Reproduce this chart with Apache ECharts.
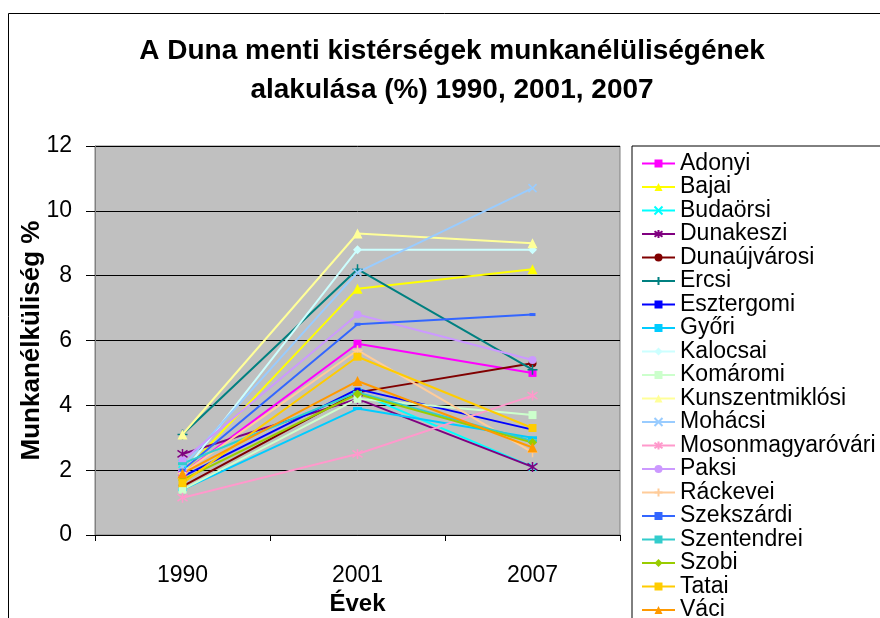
<!DOCTYPE html>
<html lang="hu">
<head>
    <meta charset="utf-8">
    <title>Duna menti kistérségek</title>
    <script src="https://cdn.jsdelivr.net/npm/echarts@6/dist/echarts.min.js"></script>
</head>
<body style="margin:0">
<div id="main" style="width:880px;height:618px;"></div>

<script type="text/javascript">
    var years = ['1990', '2001', '2007'];
    var districts = ['Adonyi', 'Bajai', 'Budaörsi', 'Dunakeszi', 'Dunaújvárosi', 'Ercsi', 'Esztergomi', 'Győri',
        'Kalocsai', 'Komáromi', 'Kunszentmiklósi', 'Mohácsi', 'Mosonmagyaróvári', 'Paksi', 'Ráckevei',
        'Szekszárdi', 'Szentendrei', 'Szobi', 'Tatai', 'Váci'];
    var v1990 = [1.9, 1.9, 2.2, 2.5, 1.5, 3.1, 1.8, 1.4, 1.9, 1.4, 3.1, 2.1, 1.15, 2.3, 1.9, 2.0, 2.2, 1.7, 1.6, 1.9];
    var v2001 = [5.9, 7.6, 4.4, 4.2, 4.4, 8.2, 4.5, 3.9, 8.8, 4.2, 9.3, 8.1, 2.5, 6.8, 5.7, 6.5, 4.4, 4.35, 5.5, 4.75];
    var v2007 = [5.0, 8.2, 2.1, 2.1, 5.3, 5.1, 3.25, 3.0, 8.8, 3.7, 9.0, 10.7, 4.3, 5.4, 2.55, 6.8, 2.9, 2.85, 3.3, 2.7];
    var yMin = 0, yMax = 12, yStep = 2;

    var colors = ['#FF00FF', '#FFFF00', '#00FFFF', '#800080', '#800000', '#008080', '#0000FF', '#00CCFF',
        '#CCFFFF', '#CCFFCC', '#FFFF99', '#99CCFF', '#FF99CC', '#CC99FF', '#FFCC99',
        '#3366FF', '#33CCCC', '#99CC00', '#FFCC00', '#FF9900'];

    var SQ = 'rect', TRI = 'triangle', CIR = 'circle', DIA = 'diamond';
    var XM = 'path://M0,0L10,10M10,0L0,10';
    var STAR = 'path://M5,0L5,10M0.7,1.5L9.3,8.5M9.3,1.5L0.7,8.5';
    var PLUS = 'path://M5,0L5,10M0,5L10,5';
    var markers = [SQ, TRI, XM, STAR, CIR, PLUS, 'rect', 'rect', DIA, SQ, TRI, XM, STAR, CIR, PLUS, 'rect', 'rect', DIA, SQ, TRI];
    var sizes = [8, 10, 8, 10, 8, 10, [6, 3], [9, 3], 9, 8, 10, 8, 10, 8, 10, [6, 3], [9, 3], 9, 8, 10];

    var font = 'Liberation Sans, Arial, sans-serif';
    var myChart = echarts.init(document.getElementById('main'));

    var series = districts.map(function (name, i) {
        var isPath = typeof markers[i] === 'string' && markers[i].indexOf('path://') === 0;
        return {
            name: name,
            type: 'line',
            data: [v1990[i], v2001[i], v2007[i]],
            symbol: markers[i],
            symbolSize: sizes[i],
            showAllSymbol: true,
            color: colors[i],
            lineStyle: {width: 2, color: colors[i]},
            itemStyle: {color: colors[i], borderColor: colors[i], borderWidth: isPath ? 1.5 : 0},
            emphasis: {disabled: true}
        };
    });

    var option = {
        animation: false,
        backgroundColor: '#fff',
        title: {
            text: 'A Duna menti kistérségek munkanélüliségének\nalakulása (%) 1990, 2001, 2007',
            left: 452,
            top: 32,
            padding: 0,
            textAlign: 'center',
            textStyle: {fontFamily: font, fontSize: 28, fontWeight: 'bold', color: '#000', lineHeight: 39}
        },
        graphic: [{
            type: 'rect',
            shape: {x: 8.5, y: 13.5, width: 1000, height: 1000},
            style: {fill: 'none', stroke: '#000', lineWidth: 1},
            silent: true
        }],
        legend: {
            orient: 'vertical',
            left: 632,
            top: 146,
            height: 700,
            padding: [6, 10, 6, 9],
            borderColor: '#000',
            borderWidth: 1,
            itemWidth: 33,
            itemHeight: 10,
            itemGap: 0.5,
            textStyle: {fontFamily: font, fontSize: 23, lineHeight: 23, color: '#000'},
            data: districts
        },
        grid: {
            left: 95, right: 260, top: 146, bottom: 83,
            outerBoundsMode: 'none',
            containLabel: false,
            show: true,
            backgroundColor: '#C0C0C0',
            borderColor: '#808080',
            borderWidth: 1
        },
        xAxis: {
            type: 'category',
            data: years,
            boundaryGap: true,
            name: 'Évek',
            nameLocation: 'middle',
            nameGap: 57,
            nameMoveOverlap: false,
            nameTextStyle: {fontFamily: font, fontSize: 24, fontWeight: 'bold', color: '#000'},
            axisLine: {lineStyle: {color: '#000', width: 1}},
            axisTick: {show: true, length: 6, lineStyle: {color: '#000'}},
            axisLabel: {fontFamily: font, fontSize: 23, color: '#000', margin: 29}
        },
        yAxis: {
            type: 'value',
            min: yMin,
            max: yMax,
            interval: yStep,
            name: 'Munkanélküliség %',
            nameLocation: 'middle',
            nameGap: 50,
            nameMoveOverlap: false,
            nameTextStyle: {fontFamily: font, fontSize: 26, fontWeight: 'bold', color: '#000'},
            axisLine: {show: true, lineStyle: {color: '#808080', width: 1}},
            axisTick: {show: true, length: 9, lineStyle: {color: '#000'}},
            axisLabel: {fontFamily: font, fontSize: 23, color: '#000', margin: 23},
            splitLine: {show: true, lineStyle: {color: '#000', width: 1}}
        },
        series: series
    };

    myChart.setOption(option);
</script>

</body>
</html>
